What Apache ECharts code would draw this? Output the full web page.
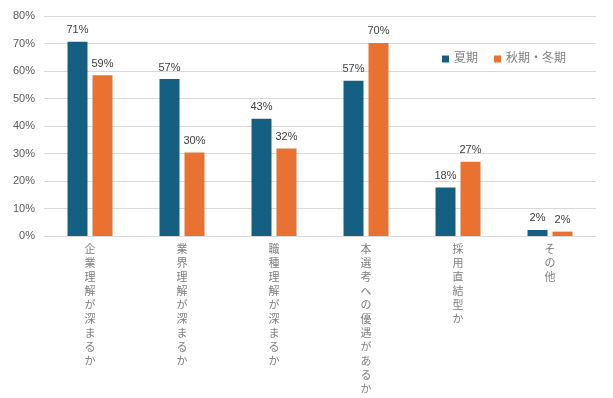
<!DOCTYPE html>
<html>
<head>
<meta charset="utf-8">
<script src="https://cdn.jsdelivr.net/npm/echarts@6/dist/echarts.min.js"></script>
<style>
    html, body { margin: 0; padding: 0; background: #fff; }
    #chart { width: 613px; height: 398px; }
</style>
</head>
<body>
<div id="chart"></div>
<script>
    // カテゴリ（縦書き表示）
    var categories = ["企業理解が深まるか", "業界理解が深まるか", "職種理解が深まるか", "本選考への優遇があるか", "採用直結型か", "その他"];
    var seriesNames = ["夏期", "秋期・冬期"];
    // 値（%）
    var summerValues = [70.6, 57.1, 42.6, 56.5, 17.6, 2.2];
    var autumnWinterValues = [58.5, 30.4, 31.8, 70.2, 27.0, 1.6];
    var yTicks = [0, 10, 20, 30, 40, 50, 60, 70, 80];

    var font = "'Liberation Sans', 'Noto Sans CJK JP', sans-serif";
    var myChart = echarts.init(document.getElementById('chart'));

    myChart.setOption({
        animation: false,
        textStyle: { fontFamily: font },
        grid: { left: 44, right: 17, top: 16, bottom: 162 },
        legend: {//凡例
            data: seriesNames,
            left: 428,
            top: 48,
            padding: [5, 9, 5, 14],
            backgroundColor: '#fff',
            itemWidth: 7,
            itemHeight: 7,
            itemGap: 16,
            icon: 'rect',
            textStyle: { color: '#7f7f7f', fontSize: 12, fontFamily: font }
        },
        xAxis: {
            type: 'category',
            data: categories,
            axisTick: { show: false },
            axisLine: { lineStyle: { color: '#d9d9d9', width: 1 } },
            axisLabel: {
                interval: 0,
                margin: 7,
                color: '#808080',
                fontSize: 11,
                lineHeight: 14,
                verticalAlign: 'top',
                formatter: function (v) {//縦書き
                    return v.split('').join('\n');
                }
            }
        },
        yAxis: {
            type: 'value',
            min: yTicks[0],
            max: yTicks[yTicks.length - 1],
            interval: 10,
            axisLine: { show: false },
            axisTick: { show: false },
            splitLine: { lineStyle: { color: '#d9d9d9', width: 1 } },
            axisLabel: {
                color: '#595959',
                fontSize: 11,
                margin: 9,
                formatter: '{value}%'
            }
        },
        series: [
            {
                name: seriesNames[0],
                type: 'bar',
                data: summerValues,
                barWidth: 20,
                barGap: '25%',
                itemStyle: { color: '#156082' },
                label: {
                    show: true,
                    position: 'top',
                    distance: 6,
                    color: '#404040',
                    fontSize: 11,
                    formatter: function (p) { return Math.round(p.value) + '%'; }
                }
            },
            {
                name: seriesNames[1],
                type: 'bar',
                data: autumnWinterValues,
                barWidth: 20,
                barGap: '25%',
                itemStyle: { color: '#E97132' },
                label: {
                    show: true,
                    position: 'top',
                    distance: 6,
                    color: '#404040',
                    fontSize: 11,
                    formatter: function (p) { return Math.round(p.value) + '%'; }
                }
            }
        ]
    });
</script>
</body>
</html>
